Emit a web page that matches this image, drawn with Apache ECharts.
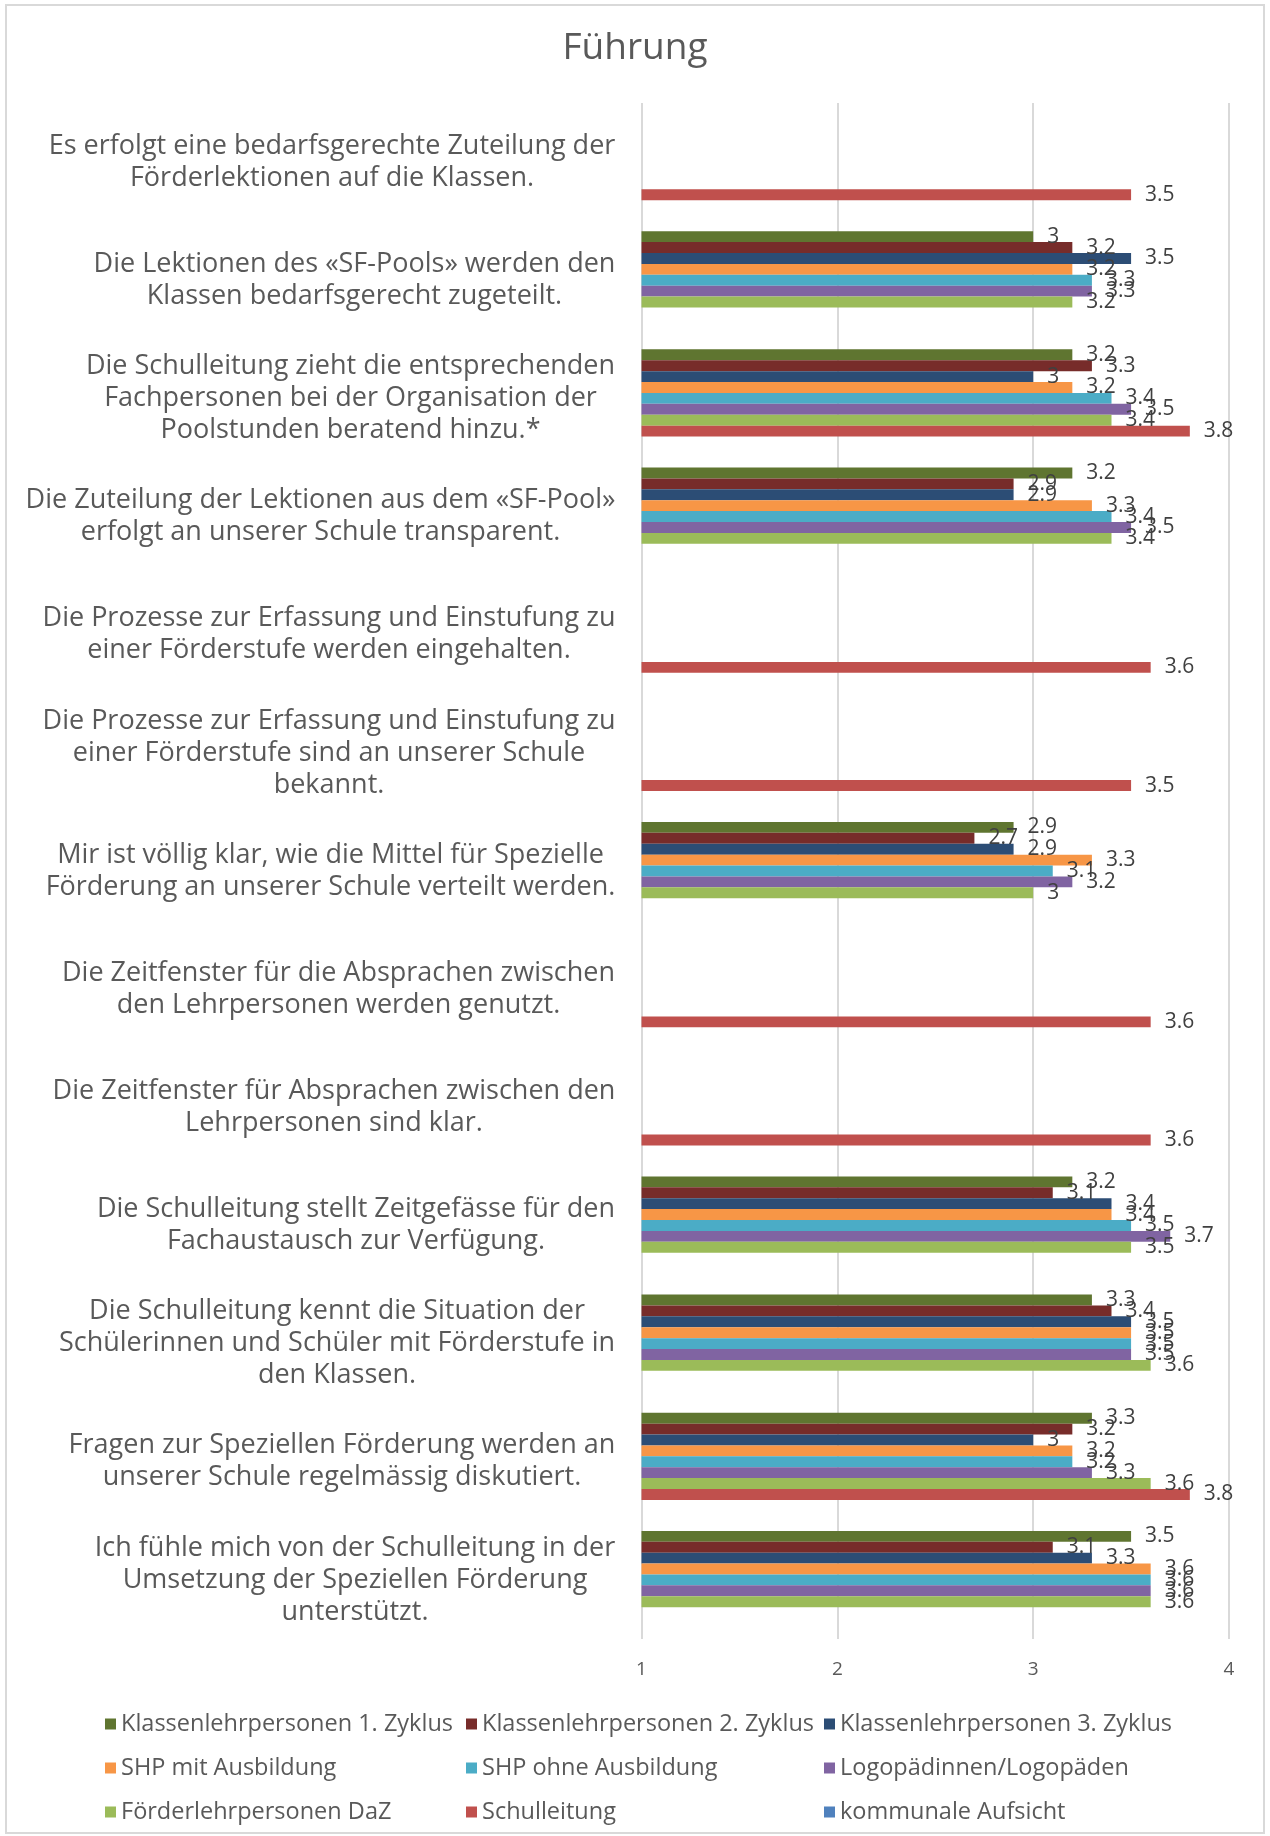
<!DOCTYPE html>
<html>
<head>
<meta charset="utf-8">
<script src="https://cdn.jsdelivr.net/npm/echarts@6/dist/echarts.min.js"></script>
<style>
  html, body { margin: 0; padding: 0; background: #fff; }
  #chart { width: 1270px; height: 1836px; }
  #frame { position: absolute; left: 5px; top: 4px; width: 1256px; height: 1826px; border: 2px solid #d9d9d9; pointer-events: none; }
</style>
</head>
<body>
<div id="chart"></div>
<div id="frame"></div>
<script>
const categories = [
  'Es erfolgt eine bedarfsgerechte Zuteilung der\nFörderlektionen auf die Klassen.',
  'Die Lektionen des «SF-Pools» werden den\nKlassen bedarfsgerecht zugeteilt.',
  'Die Schulleitung zieht die entsprechenden\nFachpersonen bei der Organisation der\nPoolstunden beratend hinzu.*',
  'Die Zuteilung der Lektionen aus dem «SF-Pool»\nerfolgt an unserer Schule transparent.',
  'Die Prozesse zur Erfassung und Einstufung zu\neiner Förderstufe werden eingehalten.',
  'Die Prozesse zur Erfassung und Einstufung zu\neiner Förderstufe sind an unserer Schule\nbekannt.',
  'Mir ist völlig klar, wie die Mittel für Spezielle\nFörderung an unserer Schule verteilt werden.',
  'Die Zeitfenster für die Absprachen zwischen\nden Lehrpersonen werden genutzt.',
  'Die Zeitfenster für Absprachen zwischen den\nLehrpersonen sind klar.',
  'Die Schulleitung stellt Zeitgefässe für den\nFachaustausch zur Verfügung.',
  'Die Schulleitung kennt die Situation der\nSchülerinnen und Schüler mit Förderstufe in\nden Klassen.',
  'Fragen zur Speziellen Förderung werden an\nunserer Schule regelmässig diskutiert.',
  'Ich fühle mich von der Schulleitung in der\nUmsetzung der Speziellen Förderung\nunterstützt.'
];

const seriesNames = [
  'Klassenlehrpersonen 1. Zyklus',
  'Klassenlehrpersonen 2. Zyklus',
  'Klassenlehrpersonen 3. Zyklus',
  'SHP mit Ausbildung',
  'SHP ohne Ausbildung',
  'Logopädinnen/Logopäden',
  'Förderlehrpersonen DaZ',
  'Schulleitung',
  'kommunale Aufsicht'
];

const colors = ['#5f7530', '#772c2a', '#2c4d75', '#f79646', '#4bacc6', '#8064a2', '#9bbb59', '#c0504d', '#4f81bd'];

const klp1 = [null, 3, 3.2, 3.2, null, null, 2.9, null, null, 3.2, 3.3, 3.3, 3.5];
const klp2 = [null, 3.2, 3.3, 2.9, null, null, 2.7, null, null, 3.1, 3.4, 3.2, 3.1];
const klp3 = [null, 3.5, 3, 2.9, null, null, 2.9, null, null, 3.4, 3.5, 3, 3.3];
const shpMit = [null, 3.2, 3.2, 3.3, null, null, 3.3, null, null, 3.4, 3.5, 3.2, 3.6];
const shpOhne = [null, 3.3, 3.4, 3.4, null, null, 3.1, null, null, 3.5, 3.5, 3.2, 3.6];
const logo = [null, 3.3, 3.5, 3.5, null, null, 3.2, null, null, 3.7, 3.5, 3.3, 3.6];
const daz = [null, 3.2, 3.4, 3.4, null, null, 3, null, null, 3.5, 3.6, 3.6, 3.6];
const schulleitung = [3.5, null, 3.8, null, 3.6, 3.5, null, 3.6, 3.6, null, null, 3.8, null];
const aufsicht = [null, null, null, null, null, null, null, null, null, null, null, null, null];

const valueTicks = [1, 2, 3, 4];

const allValues = [klp1, klp2, klp3, shpMit, shpOhne, logo, daz, schulleitung, aufsicht];

const fontFamily = '"Open Sans", sans-serif';
const textColor = '#595959';
const catFontSize = 27;

// each label block is right aligned, its lines centred inside the block
const ctx = document.createElement('canvas').getContext('2d');
ctx.font = catFontSize + 'px "Open Sans"';
const rich = {};
categories.forEach((c, i) => {
  const w = Math.max(...c.split('\n').map(l => ctx.measureText(l).width));
  rich['c' + i] = {
    width: Math.ceil(w) + 2,
    align: 'center',
    fontSize: catFontSize,
    lineHeight: 32,
    fontFamily: fontFamily,
    color: textColor
  };
});

const series = seriesNames.map((name, i) => ({
  name: name,
  type: 'bar',
  barGap: '0%',
  barCategoryGap: '17%',
  itemStyle: { color: colors[i] },
  label: {
    show: true,
    position: 'right',
    distance: 14,
    fontSize: 21,
    fontFamily: fontFamily,
    color: '#404040'
  },
  data: allValues[i].map(v => (v === null ? '-' : v))
}));

const legendColumns = [
  [seriesNames[0], seriesNames[3], seriesNames[6]],
  [seriesNames[1], seriesNames[4], seriesNames[7]],
  [seriesNames[2], seriesNames[5], seriesNames[8]]
];
const legendLeft = [105, 466, 824];

const chart = echarts.init(document.getElementById('chart'));
chart.setOption({
  animation: false,
  color: colors,
  title: {
    text: 'Führung',
    left: 'center',
    top: 25,
    textStyle: { fontSize: 37, fontWeight: 'normal', color: textColor, fontFamily: fontFamily }
  },
  legend: legendColumns.map((names, i) => ({
    data: names,
    orient: 'vertical',
    left: legendLeft[i],
    top: 1712,
    padding: 0,
    itemGap: 20,
    itemWidth: 11,
    itemHeight: 11,
    icon: 'rect',
    selectedMode: false,
    textStyle: { fontSize: 23.5, lineHeight: 24, color: textColor, fontFamily: fontFamily }
  })),
  grid: { left: 641.5, right: 41, top: 103, bottom: 197 },
  xAxis: {
    type: 'value',
    min: valueTicks[0],
    max: valueTicks[valueTicks.length - 1],
    interval: 1,
    axisLine: { show: false },
    axisTick: { show: false },
    splitLine: { lineStyle: { color: '#d9d9d9', width: 2 } },
    axisLabel: { fontSize: 19, color: textColor, fontFamily: fontFamily, margin: 21 }
  },
  yAxis: {
    type: 'category',
    inverse: true,
    data: categories,
    axisLine: { show: false },
    axisTick: { show: false },
    axisLabel: {
      margin: 25,
      interval: 0,
      formatter: (value, index) => value.split('\n').map(l => '{c' + index + '|' + l + '}').join('\n'),
      rich: rich
    }
  },
  series: series
});
</script>
</body>
</html>
